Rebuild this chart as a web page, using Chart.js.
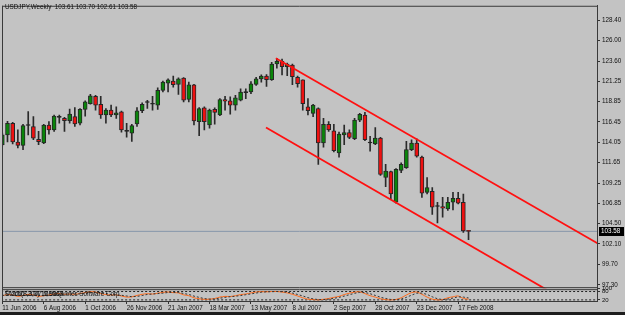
<!DOCTYPE html>
<html>
<head>
<meta charset="utf-8">
<script src="https://cdn.jsdelivr.net/npm/chart.js@4"></script>
<style>
html, body { margin: 0; padding: 0; background: #c3c3c3; }
</style>
</head>
<body>
<canvas id="chart" width="625" height="315"></canvas>
<script>
// USDJPY weekly, one candle per week from 11 Jun 2006
const opens = [113.77,114.93,116.29,114.09,113.70,116.03,115.91,114.40,113.97,116.09,
  115.51,116.99,116.87,116.60,117.07,116.29,117.92,118.61,119.46,118.53,
  117.26,117.84,117.26,117.65,115.33,115.13,116.21,117.77,118.73,118.53,
  118.42,120.16,121.02,121.25,120.85,121.60,119.11,120.82,116.49,118.11,
  116.09,117.92,117.26,119.08,118.93,118.42,119.00,119.89,119.97,120.85,
  121.52,121.83,121.43,123.26,123.57,122.94,123.14,121.71,121.40,118.23,
  117.45,118.03,113.97,116.18,115.40,112.81,114.93,115.21,114.47,116.67,
  117.26,113.97,113.85,114.55,109.91,110.60,107.00,110.75,111.07,113.19,
  113.97,112.31,108.16,108.28,106.50,106.50,106.23,107.00,107.47,107.00,
  103.61];
const highs = [115.13,116.52,116.41,115.51,116.18,117.68,117.07,115.33,116.18,116.49,
  117.26,117.26,116.99,117.95,118.15,118.03,118.93,119.69,119.58,119.46,
  118.03,118.42,118.23,117.72,116.29,116.18,118.15,118.69,119.00,119.46,
  120.47,121.25,121.52,121.83,121.63,121.67,121.13,120.88,118.15,118.23,
  117.95,118.11,119.19,119.46,119.39,119.58,120.35,120.35,121.20,121.71,
  121.98,122.01,123.45,123.92,123.84,123.37,123.26,121.83,121.40,119.19,
  118.53,118.11,116.87,116.49,116.18,115.25,116.09,115.51,116.87,117.45,
  117.57,114.75,115.79,114.63,111.45,110.68,110.95,111.65,114.17,114.35,
  114.47,112.43,109.91,108.74,107.00,107.58,107.58,108.16,108.16,107.97,
  103.70];
const lows = [113.62,114.09,113.85,113.39,113.19,114.93,114.35,113.77,113.89,115.01,
  115.33,116.29,115.33,116.29,115.91,116.09,117.14,118.53,117.84,116.87,
  116.29,117.07,116.87,115.25,114.67,114.17,115.91,117.53,118.03,117.84,
  117.92,119.97,119.97,120.55,119.69,118.81,118.81,116.09,114.82,115.51,
  115.71,116.18,117.19,117.84,117.37,117.84,118.93,119.19,119.77,120.74,
  121.13,120.62,121.32,122.76,121.98,121.90,120.82,120.55,117.84,117.26,
  117.07,111.45,113.47,115.33,112.92,112.31,113.77,114.47,114.35,116.49,
  114.24,113.01,113.77,110.17,108.83,107.39,106.89,110.49,110.99,113.08,
  112.31,107.58,107.97,105.58,104.57,105.26,106.04,106.11,106.81,103.46,
  102.61];
const closes = [114.93,116.29,114.09,113.70,116.02,116.03,114.55,114.12,116.09,115.51,
  117.14,116.99,116.60,117.37,116.21,117.92,118.81,119.51,118.42,117.26,
  117.84,117.26,117.53,115.51,115.33,116.02,117.77,118.53,118.73,118.53,
  120.16,121.13,121.40,120.82,121.52,119.00,120.82,116.56,118.03,116.49,
  117.84,117.57,119.08,118.88,118.42,119.27,119.97,119.89,120.94,121.52,
  121.83,121.43,123.26,123.57,122.94,123.26,121.78,120.94,118.61,117.77,
  118.42,113.97,116.18,115.51,113.08,115.01,115.21,114.63,116.67,117.34,
  114.35,113.97,114.55,110.29,110.68,107.97,110.87,111.45,113.19,113.97,
  112.43,108.08,108.74,106.42,106.50,106.31,107.00,107.47,106.89,103.62,
  103.58];

// oscillator in the small sub-window
const oscMain = [50,58,55,45,52,60,55,45,50,55,62,65,60,62,60,66,72,78,76,65,
  58,55,56,48,40,42,52,60,64,62,68,74,76,72,70,56,50,35,28,24,
  25,30,40,45,44,50,58,62,70,76,79,78,80,80,76,70,60,48,35,25,
  22,20,24,30,38,45,58,68,75,78,65,50,40,28,22,20,23,35,55,72,
  76,60,40,25,20,22,35,42,48,30,25];
const oscSignal = [52,54,55,53,51,52,56,53,50,50,54,60,62,62,61,63,66,72,75,73,
  66,59,56,53,48,43,45,51,59,62,65,68,73,74,73,66,59,47,38,29,
  26,26,32,38,43,46,51,57,63,69,75,78,79,80,79,75,69,59,48,36,
  27,22,22,25,31,38,47,57,67,74,73,64,52,39,30,23,22,26,38,54,
  68,69,59,42,28,22,26,33,42,40,34];
const oscLevels = [80, 20];
const oscTicks = [100, 80, 20];

// channel lines (week index, price)
const upperChannel = [{x: 52.8, y: 123.95}, {x: 116, y: 101.79}];
const lowerChannel = [{x: 50.9, y: 115.80}, {x: 107.7, y: 95.80}];

const priceTicks = [128.40,126.00,123.60,121.25,118.85,116.45,114.05,111.65,109.25,106.85,104.50,102.10,99.70,97.30];
const dateTickIdx = [0,8,16,24,32,40,48,56,64,72,80,88];
const dateLabels = ['11 Jun 2006','6 Aug 2006','1 Oct 2006','26 Nov 2006','21 Jan 2007','18 Mar 2007',
  '13 May 2007','8 Jul 2007','2 Sep 2007','28 Oct 2007','23 Dec 2007','17 Feb 2008'];

const lastClose = closes[closes.length - 1];
const FONT = "'Liberation Sans', Arial, sans-serif";
const FS = 6.3;

const bodies = opens.map((o, i) => ({x: i, y: [Math.min(o, closes[i]), Math.max(o, closes[i])]}));
const wicks = lows.map((l, i) => ({x: i, y: [l, highs[i]]}));
const bodyColors = opens.map((o, i) => closes[i] > o ? '#0a850a' : (closes[i] < o ? '#ee1111' : '#202020'));

const frame = {
  id: 'frame',
  beforeDraw(chart) {
    const c = chart.ctx;
    c.save();
    c.fillStyle = '#c3c3c3';
    c.fillRect(0, 0, chart.width, chart.height);
    c.restore();
  },
  afterDraw(chart) {
    const c = chart.ctx, a = chart.chartArea, ys = chart.scales.y;
    c.save();
    c.strokeStyle = '#3a3a3a';
    c.lineWidth = 1;
    c.beginPath();
    c.moveTo(a.left + 0.5, a.top); c.lineTo(a.left + 0.5, a.bottom);
    c.moveTo(a.left, a.top + 0.5); c.lineTo(a.right, a.top + 0.5);
    c.moveTo(a.left, ys.bottom - 0.5); c.lineTo(a.right, ys.bottom - 0.5);
    c.moveTo(a.left, ys.bottom + 1.5); c.lineTo(a.right, ys.bottom + 1.5);
    c.stroke();

    c.fillStyle = '#111';
    c.font = FS + 'px ' + FONT;
    c.textBaseline = 'top';
    c.fillText('USDJPY,Weekly  103.61 103.70 102.61 103.58', 5, 4);
    c.textBaseline = 'alphabetic';
    c.fillText('Stoch(8,3,3) 11.9868', 5, 296);
    c.fillText('\u00a9 2001-2007 MetaQuotes Software Corp.', 5, 296);

    const py = Math.round(ys.getPixelForValue(lastClose));
    c.fillStyle = '#000';
    c.fillRect(599, py - 4, 25, 9);
    c.fillStyle = '#fff';
    c.textBaseline = 'middle';
    c.fillText(lastClose.toFixed(2), 601, py + 0.5);

    c.fillStyle = '#1e1e1e';
    c.fillRect(0, 312, chart.width, 3);
    c.restore();
  }
};

new Chart(document.getElementById('chart'), {
  type: 'bar',
  data: {
    datasets: [
      {
        type: 'line', label: 'upper', data: upperChannel, yAxisID: 'y',
        borderColor: '#ff1010', borderWidth: 1.8, pointRadius: 0, order: 0
      },
      {
        type: 'line', label: 'lower', data: lowerChannel, yAxisID: 'y',
        borderColor: '#ff1010', borderWidth: 1.8, pointRadius: 0, order: 0
      },
      {
        label: 'body', data: bodies, yAxisID: 'y', grouped: false,
        backgroundColor: bodyColors, borderColor: '#262626', borderWidth: 1, borderSkipped: false,
        barThickness: 4, minBarLength: 1, order: 1
      },
      {
        label: 'wick', data: wicks, yAxisID: 'y', grouped: false,
        backgroundColor: '#2a2a2a', borderWidth: 0, barThickness: 1, order: 2
      },
      {
        type: 'line', label: 'last', data: [{x: -1, y: lastClose}, {x: 116, y: lastClose}], yAxisID: 'y',
        borderColor: '#8797ab', borderWidth: 1, pointRadius: 0, order: 3
      },
      {
        type: 'line', label: 'lvlHi', data: [{x: -1, y: oscLevels[0]}, {x: 116, y: oscLevels[0]}], yAxisID: 'y2',
        borderColor: '#222', borderWidth: 1, borderDash: [2, 2], pointRadius: 0, order: 5
      },
      {
        type: 'line', label: 'lvlLo', data: [{x: -1, y: oscLevels[1]}, {x: 116, y: oscLevels[1]}], yAxisID: 'y2',
        borderColor: '#222', borderWidth: 1, borderDash: [2, 2], pointRadius: 0, order: 5
      },
      {
        type: 'line', label: 'signal', data: oscSignal.map((v, i) => ({x: i, y: v})), yAxisID: 'y2',
        borderColor: '#333', borderWidth: 1, borderDash: [2, 2], pointRadius: 0, order: 4
      },
      {
        type: 'line', label: 'main', data: oscMain.map((v, i) => ({x: i, y: v})), yAxisID: 'y2',
        borderColor: '#ff6a1a', borderWidth: 1, pointRadius: 0, tension: 0.3, order: 4
      }
    ]
  },
  options: {
    responsive: false,
    animation: false,
    events: [],
    layout: {padding: {top: 1, left: 2, right: 0, bottom: 3}},
    plugins: {legend: {display: false}, tooltip: {enabled: false}},
    scales: {
      x: {
        type: 'linear', min: -0.06, max: 114.8, position: 'bottom', offset: false,
        afterBuildTicks: s => { s.ticks = dateTickIdx.map(v => ({value: v})); },
        afterFit: s => { s.height = 11; },
        grid: {offset: false, drawOnChartArea: false, drawTicks: true, tickLength: 3, tickColor: '#333'},
        border: {display: true, color: '#3a3a3a'},
        ticks: {
          autoSkip: false, maxRotation: 0, align: 'start', padding: 0,
          color: '#111', font: {family: FONT, size: FS},
          callback: v => dateLabels[dateTickIdx.indexOf(v)]
        }
      },
      y: {
        type: 'linear', position: 'right', stack: 'win', stackWeight: 286,
        min: 96.90, max: 130.11,
        afterBuildTicks: s => { s.ticks = priceTicks.map(v => ({value: v})); },
        afterFit: s => { s.width = 28; },
        grid: {drawOnChartArea: false, drawTicks: true, tickLength: 3, tickColor: '#333'},
        border: {display: true, color: '#3a3a3a'},
        ticks: {
          autoSkip: false, padding: 2, color: '#111', font: {family: FONT, size: FS},
          callback: v => v.toFixed(2)
        }
      },
      y2: {
        type: 'linear', position: 'right', stack: 'win', stackWeight: 13,
        min: 12, max: 104,
        afterBuildTicks: s => { s.ticks = oscTicks.map(v => ({value: v})); },
        afterFit: s => { s.width = 28; },
        grid: {drawOnChartArea: false, drawTicks: true, tickLength: 3, tickColor: '#333'},
        border: {display: true, color: '#3a3a3a'},
        ticks: {autoSkip: false, padding: 2, color: '#111', font: {family: FONT, size: 6}}
      }
    }
  },
  plugins: [frame]
});
</script>
</body>
</html>
